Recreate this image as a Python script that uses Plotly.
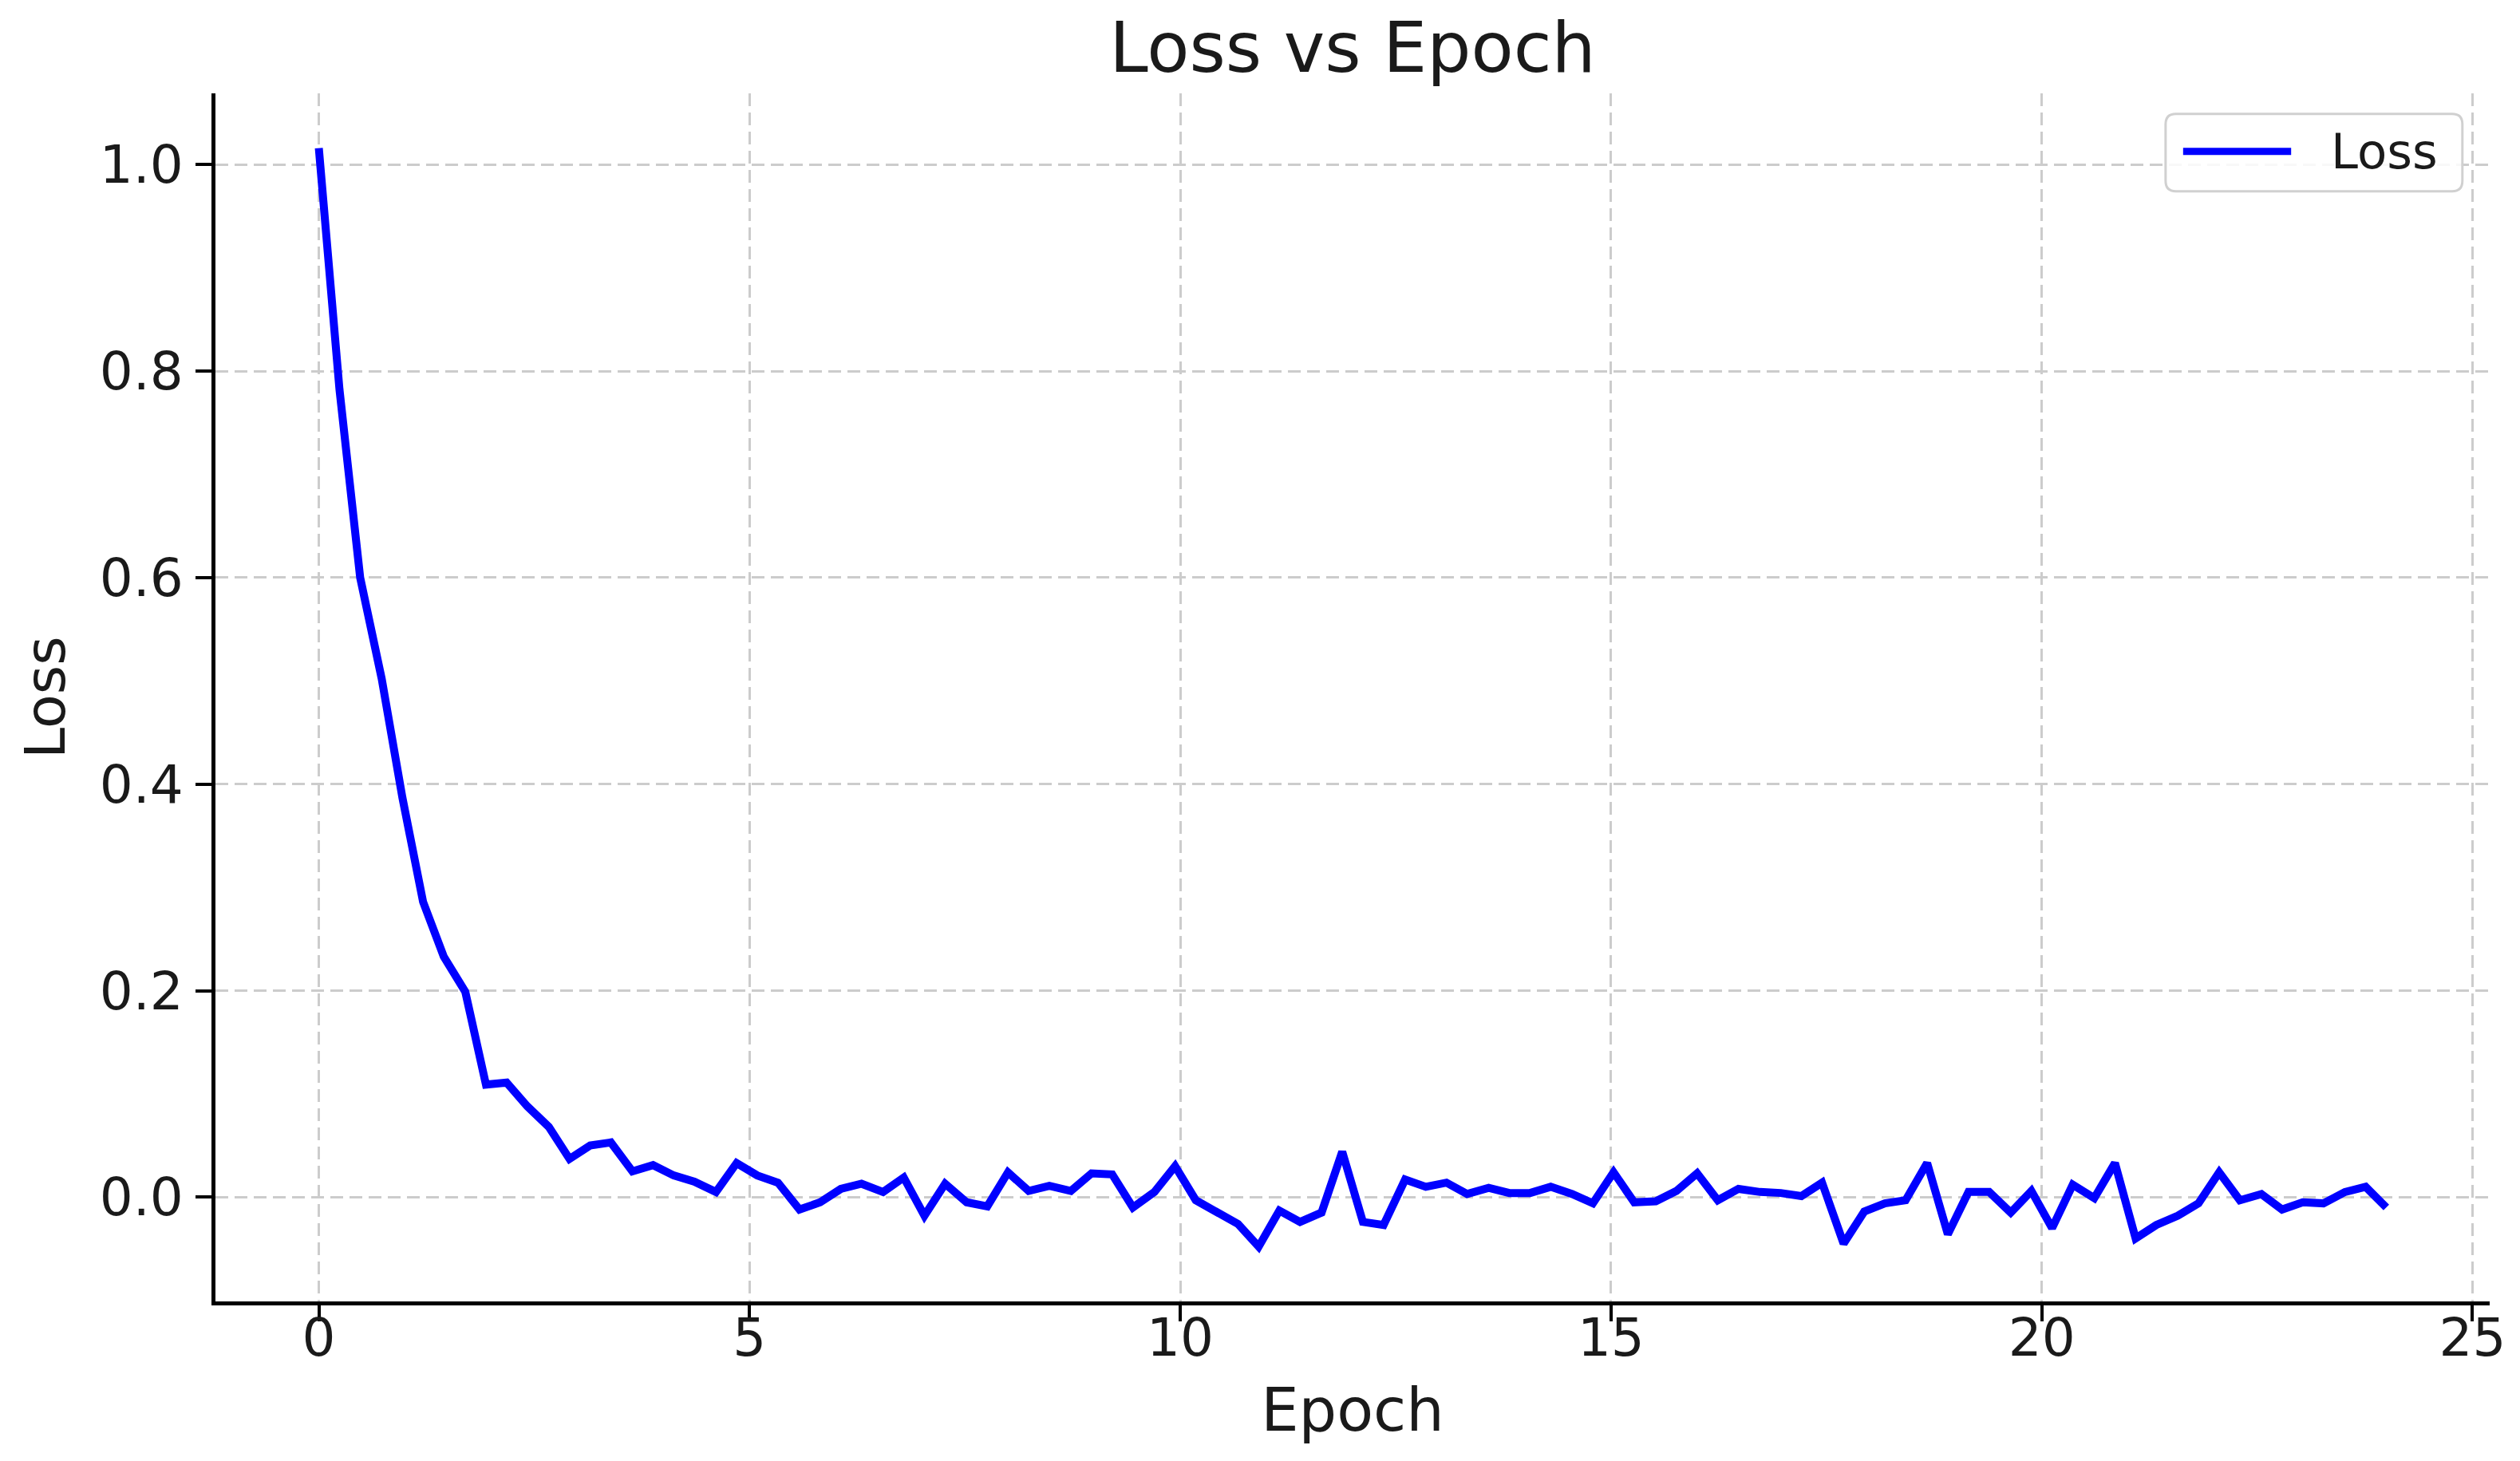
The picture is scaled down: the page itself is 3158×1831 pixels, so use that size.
import plotly.graph_objects as go

# Epoch positions (100 samples between 0 and 24)
epochs = [
    0.00, 0.24, 0.48, 0.73, 0.97, 1.21, 1.45, 1.70, 1.94, 2.18,
    2.42, 2.67, 2.91, 3.15, 3.39, 3.64, 3.88, 4.12, 4.36, 4.61,
    4.85, 5.09, 5.33, 5.58, 5.82, 6.06, 6.30, 6.55, 6.79, 7.03,
    7.27, 7.52, 7.76, 8.00, 8.24, 8.48, 8.73, 8.97, 9.21, 9.45,
    9.70, 9.94, 10.18, 10.42, 10.67, 10.91, 11.15, 11.39, 11.64, 11.88,
    12.12, 12.36, 12.61, 12.85, 13.09, 13.33, 13.58, 13.82, 14.06, 14.30,
    14.55, 14.79, 15.03, 15.27, 15.52, 15.76, 16.00, 16.24, 16.48, 16.73,
    16.97, 17.21, 17.45, 17.70, 17.94, 18.18, 18.42, 18.67, 18.91, 19.15,
    19.39, 19.64, 19.88, 20.12, 20.36, 20.61, 20.85, 21.09, 21.33, 21.58,
    21.82, 22.06, 22.30, 22.55, 22.79, 23.03, 23.27, 23.52, 23.76, 24.00,
]

# Loss values
loss = [
    1.016, 0.782, 0.600, 0.502, 0.387, 0.286, 0.233, 0.199, 0.109, 0.111,
    0.088, 0.068, 0.037, 0.050, 0.053, 0.025, 0.031, 0.021, 0.015, 0.005,
    0.033, 0.021, 0.014, -0.012, -0.005, 0.008, 0.013, 0.005, 0.019, -0.018,
    0.013, -0.005, -0.009, 0.024, 0.006, 0.011, 0.006, 0.023, 0.022, -0.010,
    0.005, 0.030, -0.003, -0.014, -0.026, -0.048, -0.013, -0.024, -0.015, 0.044,
    -0.024, -0.027, 0.017, 0.010, 0.014, 0.003, 0.009, 0.004, 0.004, 0.010,
    0.003, -0.006, 0.024, -0.005, -0.004, 0.006, 0.023, -0.003, 0.008, 0.005,
    0.004, 0.001, 0.014, -0.045, -0.014, -0.006, -0.003, 0.033, -0.036, 0.005,
    0.005, -0.015, 0.006, -0.030, 0.012, -0.001, 0.033, -0.040, -0.027, -0.018,
    -0.006, 0.024, -0.003, 0.003, -0.012, -0.005, -0.006, 0.005, 0.010, -0.010,
]

x_ticks = [0, 5, 10, 15, 20, 25]
y_ticks = [0.0, 0.2, 0.4, 0.6, 0.8, 1.0]

FONT = "DejaVu Sans"
TEXT = "#1a1a1a"
GRID = "#cccccc"

fig = go.Figure()
fig.add_trace(go.Scatter(
    x=epochs, y=loss, mode="lines", name="Loss",
    line=dict(color="#0000ff", width=10),
    showlegend=False,
))

# hand-drawn legend box (matplotlib style: rounded corners, long sample line)
bx0, bx1, by0, by1 = 0.8575, 0.9880, 0.9190, 0.9830
rx, ry = 0.0045, 0.0085
legend_path = (
    f"M{bx0 + rx},{by1} L{bx1 - rx},{by1} Q{bx1},{by1} {bx1},{by1 - ry} "
    f"L{bx1},{by0 + ry} Q{bx1},{by0} {bx1 - rx},{by0} "
    f"L{bx0 + rx},{by0} Q{bx0},{by0} {bx0},{by0 + ry} "
    f"L{bx0},{by1 - ry} Q{bx0},{by1} {bx0 + rx},{by1} Z"
)
fig.add_shape(type="path", path=legend_path, xref="paper", yref="paper",
              fillcolor="rgba(255,255,255,0.85)", line=dict(color="#d0d0d0", width=3))
fig.add_shape(type="line", xref="paper", yref="paper",
              x0=0.8652, x1=0.9127, y0=0.9520, y1=0.9520,
              line=dict(color="#0000ff", width=9))
fig.add_annotation(text="Loss", xref="paper", yref="paper", x=0.9295, y=0.9520,
                   xanchor="left", yanchor="middle", showarrow=False,
                   font=dict(family=FONT, size=61, color=TEXT))

axis_common = dict(
    showline=True, linecolor="black", linewidth=5,
    ticks="outside", ticklen=20, tickwidth=4, tickcolor="black",
    showgrid=True, gridcolor=GRID, gridwidth=3, griddash="16px,8px",
    zeroline=False, mirror=False,
    tickfont=dict(family=FONT, size=66, color=TEXT),
)

fig.update_xaxes(
    range=[-1.2, 25.2], tickvals=x_ticks, ticktext=[str(v) for v in x_ticks],
    ticklabelstandoff=-36,
    title=dict(text="Epoch", font=dict(family=FONT, size=75, color=TEXT), standoff=28),
    **axis_common,
)
fig.update_yaxes(
    range=[-0.101, 1.069], tickvals=y_ticks, ticktext=[f"{v:.1f}" for v in y_ticks],
    ticklabelstandoff=2,
    title=dict(text="Loss", font=dict(family=FONT, size=70, color=TEXT), standoff=22),
    **axis_common,
)

fig.update_layout(
    width=3158, height=1831,
    paper_bgcolor="white", plot_bgcolor="white",
    margin=dict(l=262, r=46, t=109, b=208),
    title=dict(text="Loss vs Epoch", x=0.5, xref="paper", y=0.972, yanchor="middle",
               font=dict(family=FONT, size=87, color=TEXT)),
    font=dict(family=FONT, color=TEXT),
)

fig.write_html("out.html")
